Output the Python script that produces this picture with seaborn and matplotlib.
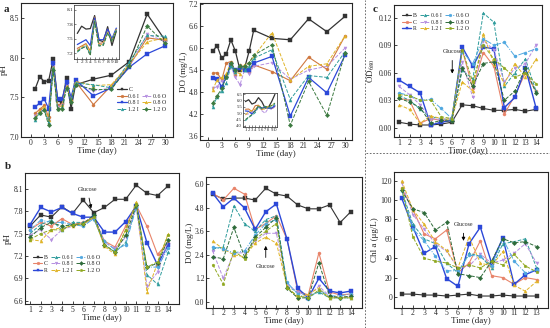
import numpy as np
import pandas as pd
import seaborn as sns
import matplotlib.pyplot as plt
from matplotlib.lines import Line2D

# ---- panel a (days 1-10, 14, 18, 22, 26, 30) ----
days_a = [1, 2, 3, 4, 5, 6, 7, 8, 9, 10, 14, 18, 22, 26, 30]
names_a = ['C', '0.6 I', '0.6 O', '0.8 I', '0.8 O', '1.2 I', '1.2 O']

ph_a_C = [7.61, 7.76, 7.70, 7.71, 7.98, 7.47, 7.44, 7.75, 7.36, 7.66, 7.73, 7.78, 7.95, 8.55, 8.22]
ph_a_06I = [7.30, 7.35, 7.40, 7.25, 7.95, 7.40, 7.42, 7.70, 7.45, 7.70, 7.41, 7.65, 7.90, 8.25, 8.22]
ph_a_06O = [7.27, 7.32, 7.36, 7.20, 7.90, 7.38, 7.40, 7.66, 7.50, 7.68, 7.58, 7.62, 7.88, 8.30, 8.20]
ph_a_08I = [7.38, 7.43, 7.48, 7.36, 7.93, 7.48, 7.48, 7.70, 7.50, 7.72, 7.52, 7.62, 7.88, 8.05, 8.15]
ph_a_08O = [7.25, 7.33, 7.38, 7.22, 7.88, 7.36, 7.40, 7.64, 7.47, 7.70, 7.65, 7.66, 7.92, 8.20, 8.25]
ph_a_12I = [7.22, 7.30, 7.35, 7.18, 7.87, 7.35, 7.38, 7.62, 7.46, 7.68, 7.66, 7.62, 7.95, 8.28, 8.27]
ph_a_12O = [7.24, 7.30, 7.34, 7.15, 7.85, 7.35, 7.36, 7.62, 7.44, 7.66, 7.60, 7.60, 7.90, 8.40, 8.18]

do_a_C = [5.91, 6.06, 5.72, 5.83, 6.22, 5.91, 5.40, 5.45, 5.91, 6.48, 6.26, 6.22, 6.79, 6.44, 6.86]
do_a_06I = [5.31, 5.33, 5.13, 5.59, 5.63, 5.27, 5.54, 5.45, 5.36, 5.54, 5.36, 5.11, 5.75, 5.42, 6.33]
do_a_06O = [4.90, 4.95, 5.10, 5.20, 5.50, 5.20, 5.00, 5.40, 5.30, 5.50, 5.60, 5.15, 5.40, 5.50, 6.00]
do_a_08I = [5.18, 5.15, 4.95, 5.20, 5.54, 5.40, 5.45, 5.40, 5.40, 5.59, 5.77, 4.15, 5.20, 4.78, 5.81]
do_a_08O = [4.86, 5.13, 5.20, 5.30, 5.60, 5.35, 5.30, 5.55, 5.60, 5.77, 6.41, 5.13, 5.50, 5.57, 6.33]
do_a_12I = [4.40, 4.67, 4.84, 5.04, 5.50, 5.36, 5.54, 5.40, 5.50, 5.72, 5.95, 4.60, 5.25, 5.20, 5.90]
do_a_12O = [4.50, 4.70, 4.90, 5.20, 5.60, 5.40, 5.50, 5.50, 5.60, 5.80, 6.09, 3.90, 5.09, 4.17, 5.86]

# ---- panels b / c (days 1-14) ----
days_b = list(range(1, 15))
days_chl = list(range(1, 14))
names_b = ['B', 'C', 'R', '0.6 I', '0.8 I', '1.2 I', '0.6 O', '0.8 O', '1.2 O']

ph_b = {
    'B': [7.60, 7.75, 7.72, 7.86, 7.77, 7.95, 7.78, 7.85, 7.96, 7.96, 8.15, 8.04, 8.01, 8.14],
    'C': [7.55, 7.65, 7.60, 7.70, 7.62, 7.65, 7.72, 7.40, 7.32, 7.60, 7.88, 7.60, 7.22, 7.38],
    'R': [7.62, 7.85, 7.79, 7.85, 7.77, 7.72, 7.72, 7.52, 7.52, 7.66, 7.87, 7.38, 7.08, 7.35],
    '0.6 I': [7.50, 7.62, 7.68, 7.55, 7.65, 7.65, 7.70, 7.35, 7.25, 7.38, 7.88, 6.95, 6.82, 7.25],
    '0.8 I': [7.48, 7.55, 7.42, 7.55, 7.60, 7.62, 7.70, 7.38, 7.30, 7.45, 7.85, 6.80, 6.98, 7.40],
    '1.2 I': [7.42, 7.40, 7.55, 7.58, 7.60, 7.62, 7.72, 7.33, 7.22, 7.55, 7.92, 6.72, 7.10, 7.50],
    '0.6 O': [7.55, 7.68, 7.65, 7.65, 7.62, 7.60, 7.70, 7.40, 7.28, 7.35, 7.85, 7.05, 7.05, 7.30],
    '0.8 O': [7.45, 7.58, 7.65, 7.60, 7.62, 7.63, 7.75, 7.35, 7.25, 7.48, 7.88, 7.05, 7.10, 7.42],
    '1.2 O': [7.42, 7.50, 7.55, 7.55, 7.62, 7.63, 7.72, 7.35, 7.25, 7.55, 7.90, 7.05, 7.12, 7.48],
}
do_b = {
    'B': [5.50, 5.25, 5.30, 5.30, 5.20, 5.80, 5.50, 5.40, 4.95, 4.75, 4.75, 4.95, 4.05, 4.60],
    'C': [5.55, 5.20, 5.80, 5.50, 3.70, 4.00, 4.40, 3.20, 0.55, 0.35, 2.50, 0.50, 0.35, 0.40],
    'R': [5.55, 4.85, 5.30, 4.80, 3.70, 4.60, 5.00, 3.20, 0.70, 0.20, 1.20, 0.55, 0.45, 0.55],
    '0.6 I': [2.70, 2.80, 4.90, 4.00, 3.60, 4.20, 4.40, 0.80, 0.50, 0.30, 0.50, 0.20, 0.20, 0.20],
    '0.8 I': [2.60, 1.20, 2.50, 2.50, 3.10, 3.50, 3.50, 0.90, 0.50, 0.30, 0.80, 0.30, 0.20, 0.30],
    '1.2 I': [3.10, 2.70, 2.40, 2.30, 3.00, 3.30, 3.00, 0.80, 0.20, 0.40, 0.70, 0.20, 0.30, 0.20],
    '0.6 O': [2.80, 2.70, 2.50, 2.60, 3.40, 4.00, 4.20, 1.00, 0.40, 0.15, 0.60, 0.30, 0.30, 0.40],
    '0.8 O': [2.30, 2.20, 3.80, 2.30, 3.30, 3.80, 4.30, 0.70, 0.20, 0.20, 2.00, 0.30, 0.20, 0.30],
    '1.2 O': [1.90, 0.90, 2.60, 2.20, 3.20, 3.60, 4.00, 0.70, 0.30, 0.20, 0.60, 0.20, 0.20, 0.20],
}
od_c = {
    'B': [0.006, 0.004, 0.003, 0.003, 0.004, 0.006, 0.025, 0.024, 0.021, 0.019, 0.019, 0.020, 0.018, 0.020],
    'C': [0.032, 0.030, 0.005, 0.010, 0.008, 0.007, 0.085, 0.043, 0.082, 0.067, 0.015, 0.035, 0.060, 0.040],
    'R': [0.052, 0.045, 0.038, 0.003, 0.006, 0.008, 0.088, 0.067, 0.088, 0.086, 0.022, 0.033, 0.065, 0.022],
    '0.6 I': [0.035, 0.030, 0.020, 0.012, 0.010, 0.008, 0.063, 0.053, 0.125, 0.115, 0.045, 0.060, 0.075, 0.040],
    '0.8 I': [0.045, 0.036, 0.025, 0.010, 0.009, 0.010, 0.072, 0.033, 0.095, 0.085, 0.050, 0.065, 0.070, 0.090],
    '1.2 I': [0.025, 0.020, 0.005, 0.013, 0.010, 0.009, 0.050, 0.040, 0.102, 0.070, 0.048, 0.070, 0.055, 0.075],
    '0.6 O': [0.038, 0.035, 0.030, 0.031, 0.021, 0.010, 0.083, 0.070, 0.097, 0.090, 0.093, 0.078, 0.082, 0.086],
    '0.8 O': [0.032, 0.028, 0.022, 0.005, 0.008, 0.007, 0.065, 0.045, 0.070, 0.072, 0.030, 0.040, 0.065, 0.038],
    '1.2 O': [0.036, 0.035, 0.030, 0.030, 0.012, 0.010, 0.085, 0.050, 0.090, 0.075, 0.065, 0.055, 0.060, 0.048],
}
chl_c = {
    'B': [3, 3, 2, 2, 1, 2, 3, 1, 1, 2, 1, 1, 1],
    'C': [112, 90, 65, 60, 69, 25, 35, 58, 22, 20, 13, 20, 18],
    'R': [102, 72, 45, 52, 19, 11, 55, 72, 35, 61, 13, 23, 28],
    '0.6 I': [110, 75, 60, 55, 35, 25, 45, 42, 30, 55, 57, 60, 30],
    '0.8 I': [118, 85, 70, 55, 47, 30, 32, 44, 35, 38, 45, 55, 35],
    '1.2 I': [120, 90, 75, 57, 48, 30, 62, 35, 32, 47, 12, 6, 16],
    '0.6 O': [110, 70, 58, 42, 27, 27, 43, 42, 32, 60, 37, 25, 28],
    '0.8 O': [110, 91, 87, 69, 77, 24, 22, 20, 37, 60, 56, 57, 52],
    '1.2 O': [112, 62, 40, 37, 35, 30, 33, 30, 37, 33, 44, 32, 26],
}

ph_a = dict(zip(names_a, [ph_a_C, ph_a_06I, ph_a_06O, ph_a_08I, ph_a_08O, ph_a_12I, ph_a_12O]))
do_a = dict(zip(names_a, [do_a_C, do_a_06I, do_a_06O, do_a_08I, do_a_08O, do_a_12I, do_a_12O]))

# styles: colour, marker, linestyle, linewidth
sty_a = {
    'C': ('#333333', 's', '-', 0.9),
    '0.6 I': ('#D07840', 'o', '-', 0.8),
    '0.6 O': ('#B58FE0', 'v', '--', 0.7),
    '0.8 I': ('#2C48D8', 's', '-', 0.9),
    '0.8 O': ('#E0B428', '^', '--', 0.7),
    '1.2 I': ('#2F9C9C', '^', '--', 0.7),
    '1.2 O': ('#3C7A40', 'D', '--', 0.7),
}
sty_b = {
    'B': ('#333333', 's', '-', 0.8),
    'C': ('#E8846A', 'o', '-', 0.8),
    'R': ('#2C48D8', 's', '-', 1.0),
    '0.6 I': ('#2F9C9C', '^', '--', 0.7),
    '0.8 I': ('#B58FE0', 'v', '--', 0.7),
    '1.2 I': ('#E0B428', '^', '--', 0.7),
    '0.6 O': ('#50A8E0', 'o', '-.', 0.7),
    '0.8 O': ('#2E6B3A', 'D', '--', 0.7),
    '1.2 O': ('#8FA820', 'p', '--', 0.7),
}

sns.set_style('ticks')
plt.rcParams['font.family'] = ['Liberation Serif', 'DejaVu Serif']
plt.rcParams['mathtext.fontset'] = 'stix'
plt.rcParams['xtick.direction'] = 'in'
plt.rcParams['ytick.direction'] = 'in'
plt.rcParams['axes.linewidth'] = 0.8

fig = plt.figure(figsize=(5.5, 3.28), dpi=100)


def draw(ax, x, data, styles, ms=2.2):
    for name, vals in data.items():
        col, mk, ls, lw = styles[name]
        sns.lineplot(x=x, y=vals, ax=ax, color=col, marker=mk, linestyle=ls,
                     linewidth=lw, markersize=ms, markeredgewidth=0.3,
                     markeredgecolor=col, label=name, legend=False)


def finish(ax, xlabel, ylabel, fs=5.5):
    ax.set_xlabel(xlabel, fontsize=6.5, labelpad=0)
    ax.set_ylabel(ylabel, fontsize=6.5, labelpad=1)
    ax.tick_params(labelsize=fs, length=2, width=0.6, pad=1.2)


def handles(names, styles):
    out = []
    for n in names:
        if n is None:
            out.append(Line2D([], [], color='none'))
            continue
        col, mk, ls, lw = styles[n]
        out.append(Line2D([], [], color=col, marker=mk, linestyle=ls, linewidth=lw,
                          markersize=2, markeredgewidth=0.3))
    return out


# ---- a: pH ----
ax1 = fig.add_axes([0.038, 0.582, 0.276, 0.409])
draw(ax1, days_a, ph_a, sty_a)
ax1.set_xlim(-2.2, 31.7)
ax1.set_ylim(7.0, 8.69)
ax1.set_xticks(range(0, 31, 3))
ax1.set_yticks([7.0, 7.5, 8.0, 8.5])
finish(ax1, 'Time (day)', 'pH')
leg_names = ['C', '0.6 I', '0.8 I', '1.2 I', None, '0.6 O', '0.8 O', '1.2 O']
ax1.legend(handles(leg_names, sty_a), [n if n else '' for n in leg_names], ncol=2,
           loc='lower right', bbox_to_anchor=(0.99, 0.15), fontsize=4.2, frameon=False,
           handlelength=1.6, handletextpad=0.3, columnspacing=0.4, labelspacing=0.25)

ins1 = fig.add_axes([0.135, 0.82, 0.082, 0.165])
draw(ins1, days_a[:10], {k: v[:10] for k, v in ph_a.items()}, sty_a, ms=0)
ins1.set_xlim(0.3, 10.7)
ins1.set_ylim(7.08, 8.2)
ins1.set_xticks(range(1, 11))
ins1.set_yticks([7.2, 7.5, 7.8, 8.1])
ins1.tick_params(labelsize=3.8, length=1.2, width=0.4, pad=0.8)
for s in ins1.spines.values():
    s.set_linewidth(0.5)

# ---- a: DO ----
ax2 = fig.add_axes([0.364, 0.573, 0.276, 0.418])
draw(ax2, days_a, do_a, sty_a)
ax2.set_xlim(-1.7, 31.5)
ax2.set_ylim(3.5, 7.22)
ax2.set_xticks(range(0, 31, 3))
ax2.set_yticks([3.6, 4.2, 4.8, 5.4, 6.0, 6.6, 7.2])
finish(ax2, 'Time (day)', 'DO (mg/L)')

ins2 = fig.add_axes([0.442, 0.612, 0.062, 0.105])
draw(ins2, days_a[:10], {k: v[:10] for k, v in do_a.items()}, sty_a, ms=0)
ins2.set_xlim(0.3, 10.7)
ins2.set_ylim(3.9, 6.6)
ins2.set_xticks(range(1, 11))
ins2.set_yticks([4.0, 4.5, 5.0, 5.5, 6.0, 6.5])
ins2.tick_params(labelsize=3.3, length=1.2, width=0.4, pad=0.8)
for s in ins2.spines.values():
    s.set_linewidth(0.5)

# ---- c: OD680 ----
ax3 = fig.add_axes([0.716, 0.582, 0.269, 0.402])
draw(ax3, days_b, od_c, sty_b)
ax3.set_xlim(0.5, 14.55)
ax3.set_ylim(-0.0102, 0.1335)
ax3.set_xticks(days_b)
ax3.set_yticks([0.0, 0.03, 0.06, 0.09, 0.12])
ax3.yaxis.set_major_formatter(plt.FormatStrFormatter('%.2f'))
finish(ax3, 'Time (day)', 'OD$_{680}$')
ax3.legend(handles(names_b, sty_b), names_b, ncol=3, loc='upper left',
           bbox_to_anchor=(0.02, 0.98), fontsize=4.2, frameon=False,
           handlelength=1.6, handletextpad=0.3, columnspacing=0.5, labelspacing=0.25)
ax3.annotate('Glucose', xy=(6.05, 0.056), xytext=(6.05, 0.081), fontsize=4.2, ha='center',
             arrowprops=dict(arrowstyle='-|>', color='black', lw=0.6, mutation_scale=5))

# ---- b: pH ----
ax4 = fig.add_axes([0.045, 0.072, 0.280, 0.40])
draw(ax4, days_b, ph_b, sty_b)
ax4.set_xlim(0.5, 15.0)
ax4.set_ylim(6.55, 8.31)
ax4.set_xticks(days_b)
ax4.set_yticks([6.6, 6.9, 7.2, 7.5, 7.8, 8.1])
finish(ax4, 'Time (day)', 'pH')
ax4.legend(handles(names_b, sty_b), names_b, ncol=3, loc='lower left',
           bbox_to_anchor=(0.02, 0.2), fontsize=4.2, frameon=False,
           handlelength=1.6, handletextpad=0.3, columnspacing=0.5, labelspacing=0.25)
ax4.annotate('Glucose', xy=(6.8, 7.8), xytext=(6.4, 8.07), fontsize=4.2, ha='center',
             arrowprops=dict(arrowstyle='-|>', color='black', lw=0.6, mutation_scale=5))

# ---- b: DO ----
ax5 = fig.add_axes([0.375, 0.062, 0.284, 0.398])
draw(ax5, days_b, do_b, sty_b)
ax5.set_xlim(0.4, 15.1)
ax5.set_ylim(-0.3, 6.37)
ax5.set_xticks(days_b)
ax5.set_yticks([0.0, 1.2, 2.4, 3.6, 4.8, 6.0])
finish(ax5, 'Time (day)', 'DO (mg/L)')
ax5.annotate('Glucose', xy=(6.0, 3.0), xytext=(6.0, 1.75), fontsize=4.2, ha='center',
             arrowprops=dict(arrowstyle='-|>', color='black', lw=0.6, mutation_scale=5))

# ---- c: Chl a ----
ax6 = fig.add_axes([0.716, 0.062, 0.280, 0.414])
draw(ax6, days_chl, chl_c, sty_b)
ax6.set_xlim(0.3, 14.0)
ax6.set_ylim(-11, 129)
ax6.set_xticks(days_chl)
ax6.set_yticks(range(0, 121, 20))
finish(ax6, 'Time (day)', 'Chl a (\u03bcg/L)')
ax6.annotate('Glucose', xy=(6.5, 55), xytext=(6.5, 73), fontsize=4.2, ha='center',
             arrowprops=dict(arrowstyle='-|>', color='black', lw=0.6, mutation_scale=5))

# panel letters and separators
fig.text(0.006, 0.985, 'a', fontsize=8, fontweight='bold', va='top')
fig.text(0.009, 0.505, 'b', fontsize=8, fontweight='bold', va='top')
fig.text(0.677, 0.985, 'c', fontsize=8, fontweight='bold', va='top')
fig.add_artist(Line2D([0.664, 0.664], [0.0, 1.0], color='#555555', lw=0.6, ls=(0, (2, 2))))
fig.add_artist(Line2D([0.666, 1.0], [0.535, 0.535], color='#555555', lw=0.6, ls=(0, (2, 2))))

fig.savefig('out.png', dpi=100)
